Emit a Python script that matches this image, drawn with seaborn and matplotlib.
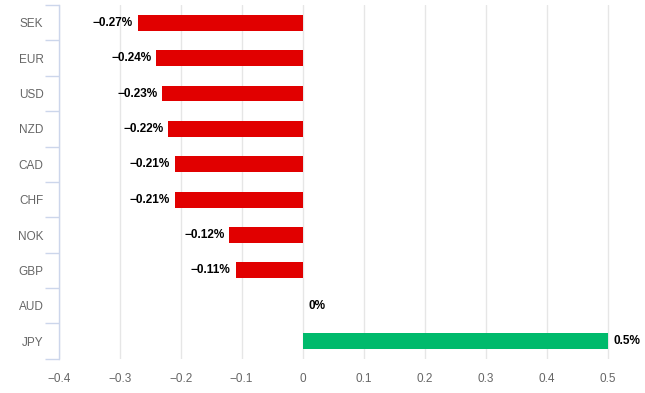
import numpy as np
import pandas as pd
import matplotlib
matplotlib.use("Agg")
import matplotlib.pyplot as plt
import seaborn as sns

currencies = ["SEK", "EUR", "USD", "NZD", "CAD", "CHF", "NOK", "GBP", "AUD", "JPY"]
changes = [-0.27, -0.24, -0.23, -0.22, -0.21, -0.21, -0.12, -0.11, 0.0, 0.5]
x_ticks = [-0.4, -0.3, -0.2, -0.1, 0, 0.1, 0.2, 0.3, 0.4, 0.5]

df = pd.DataFrame({"currency": currencies, "change": changes})
df["sign"] = np.where(df["change"] >= 0, "up", "down")

sns.set_style("white")
plt.rcParams["font.family"] = ["Liberation Sans", "DejaVu Sans"]

fig = plt.figure(figsize=(6.45, 3.93), dpi=100)
ax = fig.add_axes([0.091, 0.087, 0.901, 0.9])

sns.barplot(data=df, y="currency", x="change", hue="sign", orient="h",
            palette={"up": "#00ba6c", "down": "#e10000"}, width=0.45,
            saturation=1, linewidth=0, dodge=False, legend=False, ax=ax)

ax.set_xlim(-0.4, 0.553)
ax.set_ylim(9.5, -0.5)
ax.set_xticks(x_ticks)
ax.set_xticklabels(["0" if t == 0 else f"{t:g}".replace("-", "\u2212") for t in x_ticks],
                   color="#666666", fontsize=8.5)
ax.set_yticks(range(len(currencies)))
ax.set_yticklabels(currencies, color="#666666", fontsize=8.5)
ax.tick_params(axis="x", length=0, pad=10)
ax.tick_params(axis="y", which="major", length=0, pad=11)
ax.set_yticks(np.arange(-0.5, len(currencies), 1), minor=True)
ax.tick_params(axis="y", which="minor", left=True, length=10, color="#ccd6eb", width=1)
ax.set_xlabel("")
ax.set_ylabel("")

ax.grid(axis="x", color="#e6e6e6", linewidth=1)
ax.set_axisbelow(True)
for s in ["top", "right", "bottom"]:
    ax.spines[s].set_visible(False)
ax.spines["left"].set_color("#ccd6eb")
ax.spines["left"].set_linewidth(1)

for i, v in enumerate(changes):
    txt = f"{v:g}%".replace("-", "\u2212")
    if v < 0:
        ax.annotate(txt, (v, i), xytext=(-3.5, 0), textcoords="offset points",
                    ha="right", va="center", fontsize=8.5, fontweight="bold", color="#000000")
    else:
        ax.annotate(txt, (v, i), xytext=(4, 0), textcoords="offset points",
                    ha="left", va="center", fontsize=8.5, fontweight="bold", color="#000000")

fig.savefig("out.png", dpi=100)
